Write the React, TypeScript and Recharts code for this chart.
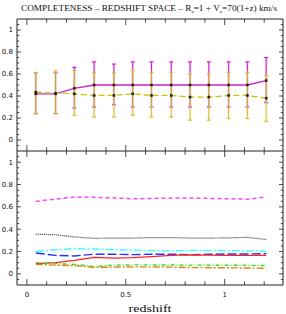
import React from 'react';
import { ComposedChart, Line, XAxis, YAxis, ErrorBar } from 'recharts';

// redshift bins
const redshift = [0.045, 0.145, 0.24, 0.34, 0.44, 0.535, 0.63, 0.73, 0.825, 0.92, 1.02, 1.115, 1.21];

// top panel: completeness
const compMag = [0.42, 0.42, 0.47, 0.5, 0.5, 0.5, 0.5, 0.5, 0.5, 0.5, 0.5, 0.5, 0.54];
const compMagLo = [0.24, 0.24, 0.29, 0.3, 0.32, 0.3, 0.3, 0.3, 0.3, 0.3, 0.3, 0.3, 0.34];
const compMagHi = [0.61, 0.61, 0.66, 0.71, 0.69, 0.71, 0.71, 0.71, 0.71, 0.71, 0.71, 0.71, 0.75];

const compYel = [0.435, 0.425, 0.42, 0.405, 0.405, 0.42, 0.405, 0.405, 0.39, 0.39, 0.405, 0.405, 0.38];
const compYelLo = [0.24, 0.24, 0.225, 0.21, 0.21, 0.225, 0.21, 0.21, 0.18, 0.18, 0.195, 0.195, 0.17];
const compYelHi = [0.61, 0.63, 0.63, 0.61, 0.61, 0.63, 0.615, 0.615, 0.6, 0.6, 0.615, 0.615, 0.59];

// bottom panel: fractions
const fracMagenta = [0.648, 0.67, 0.687, 0.685, 0.68, 0.672, 0.675, 0.678, 0.678, 0.676, 0.672, 0.668, 0.688];
const fracBlack = [0.355, 0.35, 0.33, 0.318, 0.32, 0.32, 0.325, 0.325, 0.32, 0.32, 0.322, 0.327, 0.307];
const fracCyan = [0.2, 0.215, 0.225, 0.222, 0.215, 0.212, 0.208, 0.205, 0.208, 0.21, 0.207, 0.205, 0.203];
const fracBlue = [0.187, 0.165, 0.16, 0.176, 0.175, 0.172, 0.176, 0.176, 0.172, 0.175, 0.178, 0.178, 0.18];
const fracRed = [0.092, 0.1, 0.12, 0.148, 0.14, 0.145, 0.155, 0.165, 0.17, 0.168, 0.165, 0.165, 0.165];
const fracGreen = [0.1, 0.092, 0.085, 0.065, 0.078, 0.08, 0.08, 0.079, 0.078, 0.077, 0.077, 0.076, 0.074];
const fracOrange = [0.085, 0.078, 0.074, 0.058, 0.06, 0.062, 0.062, 0.06, 0.056, 0.055, 0.054, 0.052, 0.05];

// ticks
const xTicks = [0, 0.1, 0.2, 0.3, 0.4, 0.5, 0.6, 0.7, 0.8, 0.9, 1, 1.1, 1.2];
const xMajor = [0, 0.5, 1];
const xLabels = ['0', '0.5', '1'];
const yTicks = [-0.05, 0, 0.05, 0.1, 0.15, 0.2, 0.25, 0.3, 0.35, 0.4, 0.45, 0.5, 0.55, 0.6, 0.65, 0.7, 0.75, 0.8, 0.85, 0.9, 0.95, 1, 1.05];
const yMajor = [0, 0.2, 0.4, 0.6, 0.8, 1];
const yLabels = ['0', '0.2', '0.4', '0.6', '0.8', '1'];

const xDomain = [-0.05, 1.295];
const yDomain = [-0.1, 1.1];

const topData = redshift.map((z, i) => ({
  z,
  mag: compMag[i],
  magErr: [compMag[i] - compMagLo[i], compMagHi[i] - compMag[i]],
  yel: compYel[i],
  yelErr: [compYel[i] - compYelLo[i], compYelHi[i] - compYel[i]],
}));

const botData = redshift.map((z, i) => ({
  z,
  magenta: fracMagenta[i],
  black: fracBlack[i],
  cyan: fracCyan[i],
  blue: fracBlue[i],
  red: fracRed[i],
  green: fracGreen[i],
  orange: fracOrange[i],
}));

const M = 4;
const AX = '#222';
const idx = (arr: number[], v: number) => arr.findIndex((m) => Math.abs(m - v) < 1e-6);

const makeYTick = (side: 'left' | 'right', showLabel: boolean) => (props: any) => {
  const { x, y, payload } = props;
  const k = idx(yMajor, payload.value);
  const major = k >= 0;
  const len = major ? 4 : 2.2;
  const ax = side === 'left' ? x + M : x - M;
  const x2 = side === 'left' ? ax + len : ax - len;
  return (
    <g>
      <line x1={ax} x2={x2} y1={y} y2={y} stroke={AX} strokeWidth={0.8} />
      {showLabel && major && (
        <text x={x} y={y} dy="0.35em" textAnchor="end" fontSize={7} fontFamily="DejaVu Sans" fill="#111">
          {yLabels[k]}
        </text>
      )}
    </g>
  );
};

const makeXTick = (side: 'top' | 'bottom', showLabel: boolean) => (props: any) => {
  const { x, y, payload } = props;
  const k = idx(xMajor, payload.value);
  const major = k >= 0;
  const len = major ? 6 : 3.8;
  const ay = side === 'bottom' ? y - M : y + M;
  const y2 = side === 'bottom' ? ay - len : ay + len;
  return (
    <g>
      <line x1={x} x2={x} y1={ay} y2={y2} stroke={AX} strokeWidth={0.8} />
      {showLabel && major && (
        <text x={x} y={y + 6} dy="0.35em" textAnchor="middle" fontSize={7} fontFamily="DejaVu Sans" fill="#111">
          {xLabels[k]}
        </text>
      )}
    </g>
  );
};

const squareDot = (p: any) => (
  <rect key={`d${p.index}`} x={p.cx - 1.3} y={p.cy - 1.3} width={2.6} height={2.6} fill="#222" />
);

const axes = (showXLabels: boolean, topLine: boolean) => [
  <XAxis key="xb" xAxisId={0} dataKey="z" type="number" domain={xDomain} ticks={xTicks} interval={0}
    allowDataOverflow height={1} tickSize={0} tickMargin={M} tickLine={false}
    axisLine={{ stroke: AX, strokeWidth: 1 }} tick={makeXTick('bottom', showXLabels)} />,
  <XAxis key="xt" xAxisId="top" orientation="top" dataKey="z" type="number" domain={xDomain} ticks={xTicks}
    interval={0} allowDataOverflow height={1} tickSize={0} tickMargin={M} tickLine={false}
    axisLine={topLine ? { stroke: AX, strokeWidth: 1 } : false} tick={makeXTick('top', false)} />,
  <YAxis key="yl" yAxisId={0} type="number" domain={yDomain} ticks={yTicks} interval={0} allowDataOverflow
    width={1} tickSize={0} tickMargin={M} tickLine={false} axisLine={{ stroke: AX, strokeWidth: 1 }}
    tick={makeYTick('left', true)} />,
  <YAxis key="yr" yAxisId="right" orientation="right" type="number" domain={yDomain} ticks={yTicks}
    interval={0} allowDataOverflow width={1} tickSize={0} tickMargin={M} tickLine={false}
    axisLine={{ stroke: AX, strokeWidth: 1 }} tick={makeYTick('right', false)} />,
];

export default function App() {
  return (
    <div style={{ position: 'absolute', left: 0, top: 0, width: 286, height: 314, background: '#fff' }}>
      <div style={{ position: 'absolute', left: 0, top: 0 }}>
        <ComposedChart width={286} height={152} data={topData} margin={{ top: 18, right: 2, bottom: 0, left: 16 }}>
          {axes(false, true)}
          <Line dataKey="mag" stroke="#cc22cc" strokeWidth={1.3} dot={squareDot} isAnimationActive={false}>
            <ErrorBar dataKey="magErr" direction="y" width={2} stroke="#f6cdf6" strokeWidth={2.4} isAnimationActive={false} />
            <ErrorBar dataKey="magErr" direction="y" width={2} stroke="#c81ec8" strokeWidth={1} isAnimationActive={false} />
          </Line>
          <Line dataKey="yel" stroke="#c8c400" strokeWidth={1.3} strokeDasharray="6 3" dot={squareDot} isAnimationActive={false}>
            <ErrorBar dataKey="yelErr" direction="y" width={2} stroke="#f6e8b0" strokeWidth={2.4} strokeOpacity={0.45} isAnimationActive={false} />
            <ErrorBar dataKey="yelErr" direction="y" width={2} stroke="#c0b400" strokeWidth={1} strokeOpacity={0.8} isAnimationActive={false} />
          </Line>
        </ComposedChart>
      </div>
      <div style={{ position: 'absolute', left: 0, top: 150 }}>
        <ComposedChart width={286} height={164} data={botData} margin={{ top: 0, right: 2, bottom: 28, left: 16 }}>
          {axes(true, false)}
          <Line dataKey="magenta" stroke="#ff44ff" strokeWidth={1.5} strokeDasharray="4 3" dot={false} isAnimationActive={false} />
          <Line dataKey="black" stroke="#333" strokeWidth={1.2} strokeDasharray="1 1" dot={false} isAnimationActive={false} />
          <Line dataKey="cyan" stroke="#44ffff" strokeWidth={1.5} strokeDasharray="8 2 2 2" dot={false} isAnimationActive={false} />
          <Line dataKey="blue" stroke="#2233ff" strokeWidth={1.4} strokeDasharray="9 3" dot={false} isAnimationActive={false} />
          <Line dataKey="red" stroke="#ff2222" strokeWidth={1.3} dot={false} isAnimationActive={false} />
          <Line dataKey="green" stroke="#33dd33" strokeWidth={1.4} strokeDasharray="4 2 1 2" dot={false} isAnimationActive={false} />
          <Line dataKey="orange" stroke="#dd8800" strokeWidth={1.4} strokeDasharray="7 2 2 2" dot={false} isAnimationActive={false} />
        </ComposedChart>
      </div>
      <svg style={{ position: 'absolute', left: 0, top: 0, pointerEvents: 'none' }} width={286} height={314}>
        <text x={149} y={11} fontFamily="Liberation Serif" fontSize={8} fill="#111" textAnchor="middle"
          textLength={256} lengthAdjust="spacingAndGlyphs">
          COMPLETENESS – REDSHIFT SPACE – R<tspan fontSize={5} dy={1.5}>s</tspan>
          <tspan dy={-1.5}>=1 + V</tspan><tspan fontSize={5} dy={1.5}>s</tspan>
          <tspan dy={-1.5}>=70(1+z) km/s</tspan>
        </text>
        <text x={150} y={312} fontFamily="Liberation Serif" fontSize={11} fill="#111" textAnchor="middle"
          textLength={43} lengthAdjust="spacingAndGlyphs">
          redshift
        </text>
      </svg>
    </div>
  );
}
